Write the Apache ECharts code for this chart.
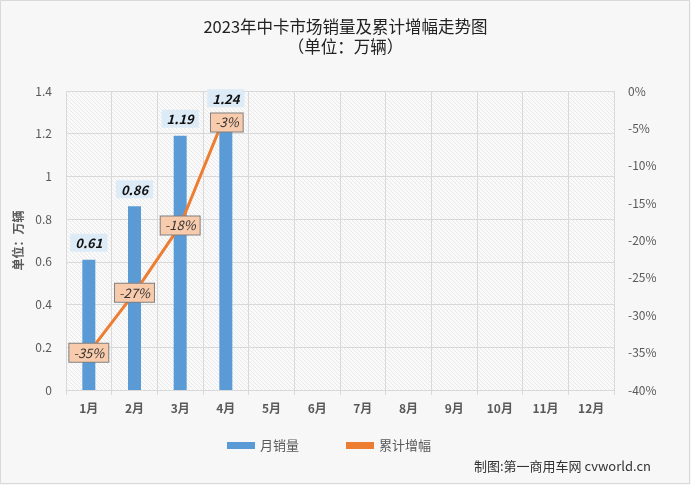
<!DOCTYPE html>
<html><head><meta charset="utf-8">
<script src="https://cdn.jsdelivr.net/npm/echarts@6/dist/echarts.min.js"></script>
<style>html,body{margin:0;padding:0;background:#f7f7f7}#c{width:691px;height:485px}</style>
</head><body><div id="c"></div>
<script>
var categories = ['1月','2月','3月','4月','5月','6月','7月','8月','9月','10月','11月','12月'];
var monthlySales = [0.61, 0.86, 1.19, 1.24];
var cumulativeGrowth = [-35, -27, -18, -3];
var leftTicks = [0, 0.2, 0.4, 0.6, 0.8, 1, 1.2, 1.4];

var pc = document.createElement('canvas');
pc.width = 4; pc.height = 4;
var ctx = pc.getContext('2d');
ctx.fillStyle = '#fafafa'; ctx.fillRect(0,0,4,4);
ctx.strokeStyle = '#e4e4e4'; ctx.lineWidth = 0.8;
ctx.beginPath(); ctx.moveTo(0,0); ctx.lineTo(4,4); ctx.stroke();
ctx.beginPath(); ctx.moveTo(-1,3); ctx.lineTo(1,5); ctx.stroke();
ctx.beginPath(); ctx.moveTo(3,-1); ctx.lineTo(5,1); ctx.stroke();

var font = '"Noto Sans CJK SC", "Noto Sans", sans-serif';
var chart = echarts.init(document.getElementById('c'), null, {renderer:'canvas'});
chart.setOption({
  backgroundColor: '#f7f7f7',
  animation: false,
  textStyle: {fontFamily: font},
  title: {
    text: '2023年中卡市场销量及累计增幅走势图\n（单位：万辆）',
    left: 'center', top: 12,
    textStyle: {fontSize: 16.5, fontWeight: 'normal', color: '#222', lineHeight: 20, fontFamily: font}
  },
  legend: {
    bottom: 28, left: 222, itemGap: 47, itemWidth: 28, itemHeight: 7,
    textStyle: {color: '#595959', fontSize: 13},
    data: [{name:'月销量', icon:'rect'}, {name:'累计增幅', icon:'rect', itemStyle:{color:'#ed7d31'}}]
  },
  graphic: [
    {type:'rect', shape:{x:0.5,y:0.5,width:689,height:483}, style:{fill:'none', stroke:'#d9d9d9', lineWidth:1}, silent:true},
    {type:'text', right: 40, bottom: 12, style:{text:'制图:第一商用车网 cvworld.cn', fill:'#333', font:'13px ' + font}}
  ],
  grid: {left: 66, right: 77, top: 91, bottom: 95, show: true, borderWidth: 0,
    backgroundColor: {image: pc, repeat: 'repeat'}},
  xAxis: {
    type: 'category', data: categories,
    axisLine: {lineStyle: {color: '#d9d9d9'}},
    axisTick: {show: true, length: 5, lineStyle: {color: '#d9d9d9'}},
    axisLabel: {color: '#595959', fontSize: 12, fontWeight: 'bold', margin: 12},
    splitLine: {show: true, lineStyle: {color: '#d9d9d9'}}
  },
  yAxis: [{
    type: 'value', min: 0, max: 1.4, interval: 0.2,
    name: '单位：万辆', nameLocation: 'middle', nameGap: 38, nameRotate: 90,
    nameTextStyle: {color: '#595959', fontSize: 12, fontWeight: 'bold'},
    axisLine: {show: false}, axisTick: {show: false},
    axisLabel: {color: '#595959', fontSize: 12, margin: 14, formatter: function(v){ return String(Math.round(v*10)/10); }},
    splitLine: {lineStyle: {color: '#d9d9d9'}}
  }, {
    type: 'value', min: -40, max: 0, interval: 5,
    axisLine: {show: false}, axisTick: {show: false},
    axisLabel: {color: '#595959', fontSize: 12, margin: 14, formatter: '{value}%'},
    splitLine: {show: false}
  }],
  series: [{
    name: '月销量', type: 'bar', data: monthlySales, barWidth: 13,
    itemStyle: {color: '#5b9bd5'},
    label: {show: true, position: 'top', distance: 8, color: '#111', fontSize: 13, fontWeight: 'bold', fontStyle: 'italic',
      backgroundColor: '#ddebf7', padding: [3, 5, 2, 5]},
    labelLayout: function(p){ return p.dataIndex === 3 ? {dy: -10, hideOverlap: false} : {hideOverlap: false}; },
    z: 2
  }, {
    name: '累计增幅', type: 'line', yAxisIndex: 1, data: cumulativeGrowth,
    symbol: 'circle', symbolSize: 1, showSymbol: true,
    lineStyle: {color: '#ed7d31', width: 3}, itemStyle: {color: '#ed7d31'},
    label: {show: true, position: 'inside', formatter: '{c}%', color: '#333', fontSize: 13, fontStyle: 'italic',
      backgroundColor: '#f8cbad', borderColor: '#7f7f7f', borderWidth: 1, padding: [3, 4, 2, 4]},
    labelLayout: function(p){ return p.dataIndex === 3 ? {dx: 1, dy: 9, hideOverlap: false} : {hideOverlap: false}; },
    z: 5
  }]
});
</script></body></html>
